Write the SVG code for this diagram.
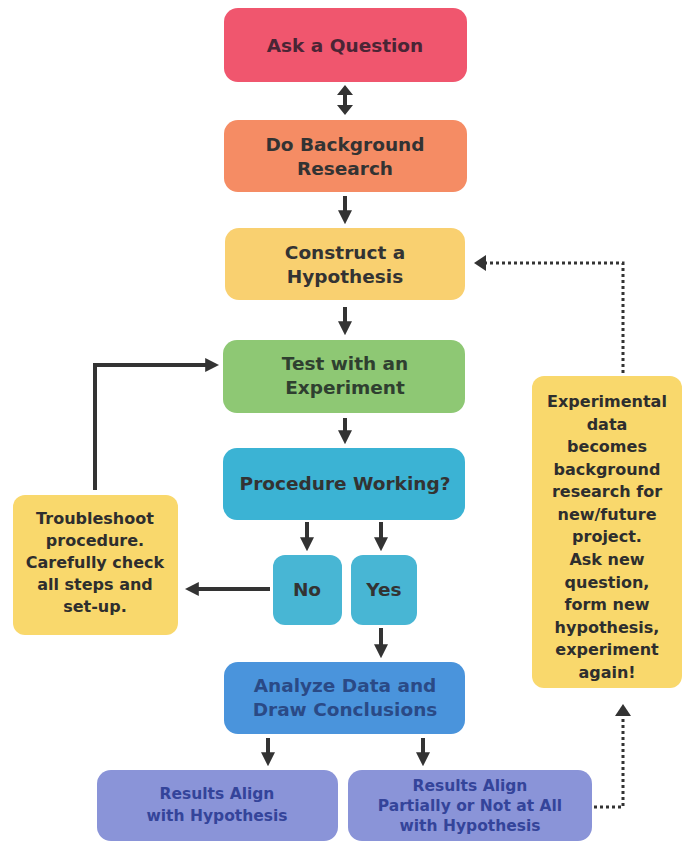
<svg xmlns="http://www.w3.org/2000/svg" width="684" height="844" viewBox="0 0 684 844">
<defs>
<marker id="ah" viewBox="0 0 10 10" refX="7" refY="5" markerWidth="3.5" markerHeight="3.5" orient="auto-start-reverse">
<path d="M0,0 L10,5 L0,10 z" fill="#333"/>
</marker>
</defs>
<style>
text{font-family:"DejaVu Sans","Liberation Sans",sans-serif;font-weight:bold;text-anchor:middle}
.t{font-size:18.5px;fill:#333}
.s{font-size:16px;fill:#2e2e2e}
.r{font-size:15.5px;fill:#34449a}
.box{stroke:none}
.c{stroke:#333;stroke-width:4;fill:none;marker-end:url(#ah)}
.d{stroke:#333;stroke-width:3;stroke-dasharray:3 3;fill:none}
</style>
<rect width="684" height="844" fill="#ffffff"/>

<g id="connectors">
<line x1="345" y1="92" x2="345" y2="108" stroke="#333" stroke-width="4"/>
<path d="M345,85 L337,95 L353,95 z M345,115 L337,105 L353,105 z" fill="#333"/>
<line class="c" x1="345" y1="196" x2="345" y2="220"/>
<line class="c" x1="345" y1="307" x2="345" y2="331"/>
<line class="c" x1="345" y1="418" x2="345" y2="440"/>
<line class="c" x1="307" y1="522" x2="307" y2="547"/>
<line class="c" x1="381" y1="522" x2="381" y2="547"/>
<line class="c" x1="270" y1="589" x2="189" y2="589"/>
<polyline class="c" points="95,490 95,365 215,365"/>
<line class="c" x1="381" y1="628" x2="381" y2="654"/>
<line class="c" x1="268" y1="738" x2="268" y2="762"/>
<line class="c" x1="423" y1="738" x2="423" y2="762"/>
<polyline class="d" points="594,807 623,807 623,712"/>
<path d="M623,704 L615,716 L631,716 z" fill="#333"/>
<polyline class="d" points="623,373 623,263 484,263"/>
<path d="M474,263 L486,255 L486,271 z" fill="#333"/>
</g>

<g id="ask">
<rect class="box" x="224" y="8" width="243" height="74" rx="14" fill="#f0566e"/>
<text class="t" x="345" y="52" style="fill:#4a2535">Ask a Question</text>
</g>
<g id="background">
<rect class="box" x="224" y="120" width="243" height="72" rx="14" fill="#f58c64"/>
<text class="t" x="345" y="151">Do Background</text>
<text class="t" x="345" y="175">Research</text>
</g>
<g id="hypothesis">
<rect class="box" x="225" y="228" width="240" height="72" rx="14" fill="#f9d070"/>
<text class="t" x="345" y="259">Construct a</text>
<text class="t" x="345" y="283">Hypothesis</text>
</g>
<g id="experiment">
<rect class="box" x="223" y="340" width="242" height="73" rx="14" fill="#8ec874"/>
<text class="t" x="345" y="370" style="fill:#2f3f30">Test with an</text>
<text class="t" x="345" y="394" style="fill:#2f3f30">Experiment</text>
</g>
<g id="procedure">
<rect class="box" x="223" y="448" width="242" height="72" rx="14" fill="#3bb3d4"/>
<text class="t" x="345" y="490">Procedure Working?</text>
</g>
<g id="no">
<rect class="box" x="273" y="555" width="69" height="70" rx="12" fill="#48b6d4"/>
<text class="t" x="307" y="596">No</text>
</g>
<g id="yes">
<rect class="box" x="351" y="555" width="66" height="70" rx="12" fill="#48b6d4"/>
<text class="t" x="384" y="596">Yes</text>
</g>
<g id="troubleshoot">
<rect class="box" x="13" y="495" width="165" height="140" rx="12" fill="#f9d86c"/>
<text class="s" x="95" y="524">Troubleshoot</text>
<text class="s" x="95" y="546">procedure.</text>
<text class="s" x="95" y="568">Carefully check</text>
<text class="s" x="95" y="590">all steps and</text>
<text class="s" x="95" y="612">set-up.</text>
</g>
<g id="analyze">
<rect class="box" x="224" y="662" width="241" height="72" rx="14" fill="#4a94dc"/>
<text class="t" x="345" y="692" style="fill:#2a4a86">Analyze Data and</text>
<text class="t" x="345" y="716" style="fill:#2a4a86">Draw Conclusions</text>
</g>
<g id="align">
<rect class="box" x="97" y="770" width="241" height="71" rx="14" fill="#8a94d8"/>
<text class="r" x="217" y="799">Results Align</text>
<text class="r" x="217" y="821">with Hypothesis</text>
</g>
<g id="partial">
<rect class="box" x="348" y="770" width="244" height="71" rx="14" fill="#8a94d8"/>
<text class="r" x="470" y="791">Results Align</text>
<text class="r" x="470" y="811">Partially or Not at All</text>
<text class="r" x="470" y="831">with Hypothesis</text>
</g>
<g id="newdata">
<rect class="box" x="532" y="376" width="150" height="312" rx="12" fill="#f9d86c"/>
<text class="s" x="607" y="407">Experimental</text>
<text class="s" x="607" y="430">data</text>
<text class="s" x="607" y="452">becomes</text>
<text class="s" x="607" y="475">background</text>
<text class="s" x="607" y="497">research for</text>
<text class="s" x="607" y="520">new/future</text>
<text class="s" x="607" y="542">project.</text>
<text class="s" x="607" y="565">Ask new</text>
<text class="s" x="607" y="588">question,</text>
<text class="s" x="607" y="610">form new</text>
<text class="s" x="607" y="633">hypothesis,</text>
<text class="s" x="607" y="655">experiment</text>
<text class="s" x="607" y="678">again!</text>
</g>
</svg>
